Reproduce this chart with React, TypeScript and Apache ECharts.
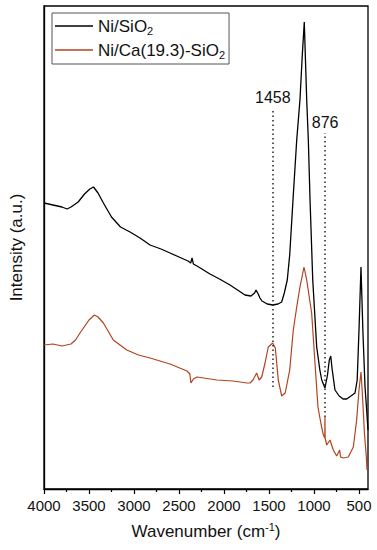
import React, { useEffect, useRef } from "react";
import * as echarts from "echarts";

// Wavenumber (cm^-1) and intensity (a.u.)
const niSiO2Wn = [4000, 3900, 3800, 3744, 3700, 3620, 3550, 3490, 3450, 3400, 3340, 3250, 3150, 3044, 2933, 2822, 2700, 2600, 2500, 2400, 2370, 2355, 2340, 2300, 2156, 2050, 1933, 1850, 1767, 1700, 1660, 1644, 1620, 1600, 1578, 1520, 1458, 1400, 1359, 1330, 1297, 1270, 1250, 1230, 1192, 1156, 1130, 1108, 1081, 1063, 1044, 1014, 970, 935, 914, 878, 850, 830, 814, 800, 767, 720, 677, 637, 590, 544, 520, 500, 478, 456, 433, 415, 400];
const niSiO2Int = [286, 284, 282, 280, 282, 287, 295, 300, 302, 296, 286, 272, 262, 257, 251, 244, 240, 236, 232, 228, 226, 231, 225, 223, 215, 210, 204, 199, 194, 193, 196, 199, 195, 191, 188, 185, 184, 185, 187, 196, 209, 234, 264, 294, 349, 389, 434, 467, 389, 349, 289, 209, 142, 119, 109, 101, 114, 129, 133, 121, 99, 93, 90, 90, 93, 96, 109, 159, 222, 156, 102, 79, 59];

const niCaWn = [4000, 3900, 3800, 3700, 3650, 3600, 3500, 3440, 3400, 3340, 3230, 3080, 2950, 2822, 2600, 2411, 2380, 2367, 2340, 2300, 2078, 1900, 1744, 1711, 1678, 1637, 1610, 1581, 1544, 1508, 1459, 1430, 1397, 1359, 1320, 1270, 1230, 1192, 1156, 1111, 1081, 1026, 989, 956, 920, 896, 880, 878, 876, 859, 822, 786, 748, 715, 705, 674, 619, 563, 526, 500, 478, 465, 450, 440, 420, 411];
const niCaInt = [144, 145, 143, 145, 149, 156, 169, 174, 172, 166, 149, 139, 134, 131, 125, 118, 115, 106, 110, 112, 109, 108, 106, 106, 109, 116, 109, 112, 126, 142, 146, 141, 109, 93, 96, 119, 159, 182, 202, 222, 209, 176, 126, 82, 64, 54, 51, 72, 51, 44, 49, 39, 33, 39, 32, 31, 32, 42, 69, 99, 117, 99, 74, 56, 34, 19];

const seriesNames = ["Ni/SiO2", "Ni/Ca(19.3)-SiO2"];
const majorTicks = [4000, 3500, 3000, 2500, 2000, 1500, 1000, 500];
const minorTicks = [3750, 3250, 2750, 2250, 1750, 1250, 750];
const markWn = [1458, 876];
const markLow = [102, 72];
const markHigh = [381, 356];

const FONT = 'Arial, "Liberation Sans", sans-serif';

export default function App() {
  const ref = useRef<HTMLDivElement>(null);
  useEffect(() => {
    if (!ref.current) return;
    const chart = echarts.init(ref.current, null, { renderer: "svg" });
    const pair = (xs: number[], ys: number[]) => xs.map((x, i) => [x, ys[i]]);
    chart.setOption({
      animation: false,
      textStyle: { fontFamily: FONT },
      grid: {
        left: 44,
        right: 9,
        top: 6,
        bottom: 61,
        show: true,
        borderColor: "#000",
        borderWidth: 1.3,
        backgroundColor: "transparent",
      },
      legend: {
        left: 52,
        top: 13,
        orient: "vertical",
        data: seriesNames.map((n) => ({ name: n, icon: "rect" })),
        borderColor: "#555",
        borderWidth: 1,
        padding: [4, 4, 4, 3],
        itemGap: 5,
        itemWidth: 38,
        itemHeight: 1.6,
        formatter: (name: string) => {
          const base = name.replace(/2$/, "");
          return `{n|${base}}{s|2}`;
        },
        textStyle: {
          fontFamily: FONT,
          color: "#111",
          rich: {
            n: { fontSize: 17, fontFamily: FONT, color: "#111", lineHeight: 20 },
            s: { fontSize: 11, fontFamily: FONT, color: "#111", lineHeight: 20, verticalAlign: "bottom", padding: [8, 0, 0, 0] },
          },
        },
      },
      xAxis: [
        {
          type: "value",
          min: 400,
          max: 4000,
          inverse: true,
          position: "bottom",
          name: "{a|Wavenumber (cm}{b|-1}{a|)}",
          nameLocation: "middle",
          nameGap: 32,
          nameTextStyle: {
            rich: {
              a: { fontSize: 17, fontFamily: FONT, color: "#111", lineHeight: 20 },
              b: { fontSize: 11, fontFamily: FONT, color: "#111", lineHeight: 20, verticalAlign: "top", padding: [0, 0, 8, 0] },
            },
          },
          axisLine: { show: true, lineStyle: { color: "#000", width: 1.3 } },
          axisTick: { show: true, customValues: majorTicks, length: 5, lineStyle: { color: "#000", width: 1.2 } },
          axisLabel: {
            customValues: majorTicks,
            fontSize: 15,
            color: "#111",
            margin: 9,
            fontFamily: FONT,
            formatter: (v: number) => String(v),
          },
          splitLine: { show: false },
        },
        {
          type: "value",
          min: 400,
          max: 4000,
          inverse: true,
          position: "bottom",
          axisLine: { show: false },
          axisTick: { show: true, customValues: minorTicks, length: 3, lineStyle: { color: "#000", width: 1.2 } },
          axisLabel: { show: false },
          splitLine: { show: false },
        },
      ],
      yAxis: {
        type: "value",
        min: 0,
        max: 483,
        name: "Intensity (a.u.)",
        nameLocation: "middle",
        nameGap: 19,
        nameTextStyle: { fontSize: 17, fontFamily: FONT, color: "#111" },
        axisLine: { show: true, lineStyle: { color: "#000", width: 1.3 } },
        axisTick: { show: false },
        axisLabel: { show: false },
        splitLine: { show: false },
      },
      series: [
        {
          name: seriesNames[0],
          type: "line",
          xAxisIndex: 0,
          data: pair(niSiO2Wn, niSiO2Int),
          symbol: "none",
          lineStyle: { color: "#000", width: 1.3 },
          itemStyle: { color: "#000" },
          z: 3,
          markLine: {
            silent: true,
            symbol: ["none", "none"],
            lineStyle: { color: "#222", width: 1.5, type: [1.5, 3] },
            label: {
              show: true,
              position: "end",
              formatter: "{b}",
              fontSize: 16,
              fontFamily: FONT,
              color: "#111",
              distance: 3,
            },
            data: markWn.map((w, i) => [
              { name: String(w), coord: [w, markLow[i]] },
              { coord: [w, markHigh[i]] },
            ]),
          },
        },
        {
          name: seriesNames[1],
          type: "line",
          xAxisIndex: 0,
          data: pair(niCaWn, niCaInt),
          symbol: "none",
          lineStyle: { color: "#b2431f", width: 1.2 },
          itemStyle: { color: "#b2431f" },
          z: 2,
        },
      ],
    });
    return () => chart.dispose();
  }, []);
  return <div ref={ref} style={{ width: 377, height: 550, position: "absolute", left: 0, top: 0 }} />;
}
